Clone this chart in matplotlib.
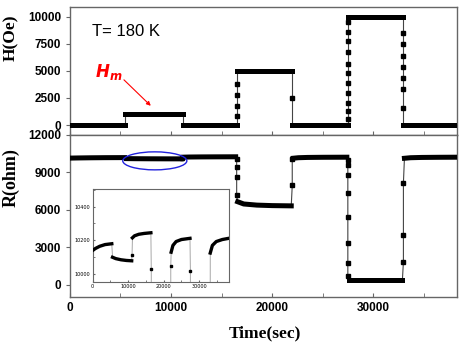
import matplotlib
matplotlib.use('Agg')
import matplotlib.pyplot as plt
from matplotlib.patches import Ellipse
from matplotlib.ticker import MultipleLocator

# field steps (Oe)
h_bounds = [0, 5500, 11200, 16500, 22000, 27500, 33000, 38300]
h_levels = [0, 1000, 0, 5000, 0, 10000, 0]
# measured points during each switch (one list per inner boundary)
h_ramps = [
    [],
    [],
    [800, 1800, 2800, 3800],
    [2500],
    [560, 1300, 2040, 2960, 3890, 4810, 5650, 6760, 7780, 8610, 9540],
    [8500, 7500, 6400, 5400, 4350, 3300, 1570],
]

# resistance plateaus (time, ohm)
r_plateau_t = [
    [0, 800, 2000, 3500, 5400],
    [5600, 6500, 8000, 9500, 11000],
    [11200, 11800, 13000, 14500, 16400],
    [16600, 17200, 18500, 20000, 21900],
    [22100, 22600, 23500, 25000, 27400],
    [27600, 32900],
    [33100, 33700, 34800, 36500, 38300],
]
r_plateau_v = [
    [10140, 10152, 10165, 10175, 10180],
    [10100, 10092, 10085, 10081, 10079],
    [10215, 10227, 10236, 10241, 10245],
    [6650, 6470, 6380, 6340, 6320],
    [10130, 10170, 10193, 10205, 10212],
    [400, 400],
    [10125, 10170, 10193, 10205, 10212],
]
r_bounds = [5500, 11100, 16500, 22000, 27500, 33000]
r_ramps = [
    [],
    [10115],
    [10030, 9440, 8640, 7200],
    [7950, 10050],
    [10020, 9600, 8800, 7360, 5440, 3360, 1760, 700],
    [1840, 4000, 8160],
]

spine_c = '#666666'
tick_font = {'family': 'Liberation Sans', 'weight': 'bold', 'size': 8.5}


def style(ax):
    for s in ax.spines.values():
        s.set_color(spine_c)
        s.set_linewidth(1.0)
    ax.tick_params(axis='x', direction='in', length=3, color=spine_c, which='both')
    ax.tick_params(axis='y', direction='out', length=3, color=spine_c)
    for lab in ax.get_xticklabels() + ax.get_yticklabels():
        lab.set_fontproperties(tick_font)


def draw_r(ax, lw_plat, ms, ramp_lw, ramp_c):
    # thin connecting path
    for i, b in enumerate(r_bounds):
        ys = [r_plateau_v[i][-1]] + r_ramps[i] + [r_plateau_v[i + 1][0]]
        xs = [r_plateau_t[i][-1]] + [b] * len(r_ramps[i]) + [r_plateau_t[i + 1][0]]
        ax.plot(xs, ys, '-', color=ramp_c, lw=ramp_lw, zorder=2)
        ax.plot([b] * len(r_ramps[i]), r_ramps[i], 's', color='k', ms=ms, zorder=3)
    for t, v in zip(r_plateau_t, r_plateau_v):
        ax.plot(t, v, '-', color='k', lw=lw_plat, solid_capstyle='projecting', zorder=3)


fig = plt.figure(figsize=(4.63, 3.44), dpi=100)
ax_h = fig.add_axes([0.151, 0.608, 0.836, 0.372])
ax_r = fig.add_axes([0.151, 0.137, 0.836, 0.471])

# H(t)
for i in range(1, len(h_bounds) - 1):
    b = h_bounds[i]
    ys = [h_levels[i - 1]] + h_ramps[i - 1] + [h_levels[i]]
    ax_h.plot([b] * len(ys), ys, '-', color='#444444', lw=0.8, zorder=2)
    ax_h.plot([b] * len(h_ramps[i - 1]), h_ramps[i - 1], 's', color='k', ms=3.3, zorder=3)
for i, lvl in enumerate(h_levels):
    ax_h.plot([h_bounds[i], h_bounds[i + 1]], [lvl, lvl], '-', color='k', lw=3.6,
              solid_capstyle='projecting', zorder=3)

ax_h.set_xlim(0, 38300)
ax_h.set_ylim(-900, 10900)
ax_h.set_yticks([0, 2500, 5000, 7500, 10000])
ax_h.xaxis.set_major_locator(MultipleLocator(10000))
ax_h.xaxis.set_minor_locator(MultipleLocator(5000))
ax_h.set_xticklabels([])
style(ax_h)
ax_h.tick_params(axis='x', which='both', labelbottom=False)
ax_h.text(2200, 8600, 'T= 180 K', fontsize=12, family='Liberation Sans', va='center')
ax_h.text(2500, 4900, r'$\mathbfit{H}_{\mathbfit{m}}$', color='red', fontsize=12, va='center')
ax_h.annotate('', xy=(8200, 1600), xytext=(5150, 4350),
              arrowprops=dict(arrowstyle='-|>', color='red', lw=0.8, mutation_scale=6))

# R(t)
draw_r(ax_r, 3.6, 3.3, 0.8, '#444444')
ax_r.set_xlim(0, 38300)
ax_r.set_ylim(-960, 12000)
ax_r.set_yticks([0, 3000, 6000, 9000, 12000])
ax_r.xaxis.set_major_locator(MultipleLocator(10000))
ax_r.xaxis.set_minor_locator(MultipleLocator(5000))
style(ax_r)
ax_r.add_patch(Ellipse((8400, 9920), 6340, 1440, fill=False, edgecolor='#2222dd', lw=1.0, zorder=5))

# inset
ax_in = fig.add_axes([0.200, 0.181, 0.294, 0.270])
draw_r(ax_in, 2.4, 2.0, 0.6, '#999999')
ax_in.set_xlim(0, 38300)
ax_in.set_ylim(9955, 10505)
ax_in.set_yticks([10000, 10200, 10400])
ax_in.set_xticks([0, 10000, 20000, 30000])
ax_in.xaxis.set_minor_locator(MultipleLocator(5000))
ax_in.yaxis.set_minor_locator(MultipleLocator(100))
for s in ax_in.spines.values():
    s.set_color(spine_c)
    s.set_linewidth(0.8)
ax_in.tick_params(which='both', direction='in', length=1.5, color=spine_c, labelsize=3.5, pad=1.5)

fig.text(0.024, 0.890, 'H(Oe)', rotation=90, ha='center', va='center',
         family='Liberation Serif', weight='bold', fontsize=12.5)
fig.text(0.024, 0.485, 'R(ohm)', rotation=90, ha='center', va='center',
         family='Liberation Serif', weight='bold', fontsize=13)
fig.text(0.572, 0.032, 'Time(sec)', ha='center', va='center',
         family='Liberation Serif', weight='bold', fontsize=12.5)

fig.savefig('out.png', dpi=100)
